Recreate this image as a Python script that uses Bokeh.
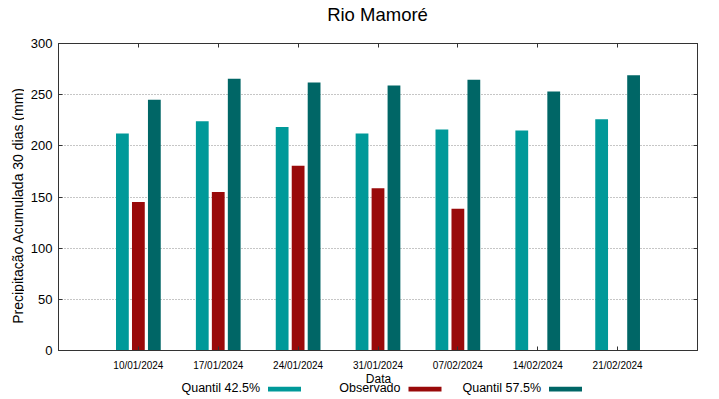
import numpy as np
from bokeh.plotting import figure
from bokeh.models import ColumnDataSource, Range1d, FixedTicker, LinearAxis
from bokeh.layouts import column, row
from bokeh.core.properties import value
from bokeh.embed import file_html
from bokeh.resources import INLINE

# ---- data ----
dates = ["10/01/2024", "17/01/2024", "24/01/2024", "31/01/2024",
         "07/02/2024", "14/02/2024", "21/02/2024"]
quantil_425 = [212, 224, 218.5, 212, 216, 215, 226]
observado = [145, 155, 180.5, 158.5, 138.5, None, None]
quantil_575 = [245, 265.5, 262, 259, 264.5, 253, 269]
y_ticks = [0, 50, 100, 150, 200, 250, 300]
series_names = ["Quantil 42.5%", "Observado", "Quantil 57.5%"]
series_colors = ["#009999", "#990a0a", "#006666"]
title_text = "Rio Mamoré"
y_label = "Precipitação Acumulada 30 dias (mm)"
x_label = "Data"

FONT = "Liberation Sans"
AXC = "#333333"


def strip(w, h):
    f = figure(width=w, height=h, x_range=Range1d(0, w), y_range=Range1d(h, 0),
               output_backend="svg", toolbar_location=None, min_border=0,
               x_axis_location=None, y_axis_location=None)
    f.outline_line_color = None
    f.grid.visible = False
    return f


# ---- top strip: title ----
tf = strip(711, 30)
tf.text(x=[377], y=[14], text=[title_text], text_align="center",
        text_baseline="middle", text_font=value(FONT), text_font_size="18.5px",
        text_color="black")

# ---- left strip: y-axis title ----
ylab = strip(24, 343)
ylab.text(x=[17], y=[181], text=[y_label], angle=np.pi / 2, text_align="center",
          text_baseline="middle", text_font=value(FONT), text_font_size="14px",
          text_color="black")

# ---- main figure ----
p = figure(width=687, height=343, x_range=Range1d(0, len(dates) + 1),
           y_range=Range1d(0, 300), output_backend="svg", toolbar_location=None,
           title=None, min_border_left=34, min_border_right=14, min_border_top=13,
           min_border_bottom=23)
p.background_fill_color = "white"
p.border_fill_color = "white"
p.outline_line_color = AXC
p.outline_line_width = 1

x_pos = np.arange(1, len(dates) + 1, dtype=float)
offsets = [-0.2, 0.0, 0.2]
bar_w = 0.16
for vals, off, col in zip([quantil_425, observado, quantil_575], offsets, series_colors):
    top = np.array([np.nan if v is None else v for v in vals], dtype=float)
    src = ColumnDataSource(dict(x=x_pos + off, top=top))
    p.vbar(x="x", top="top", bottom=0, width=bar_w, source=src,
           fill_color=col, line_color=None)

# grid
p.xgrid.visible = False
p.ygrid.ticker = FixedTicker(ticks=y_ticks)
p.ygrid.grid_line_color = "#8c8c8c"
p.ygrid.grid_line_dash = "1 2"
p.ygrid.grid_line_width = 1

# bottom axis
xa = p.xaxis[0]
xa.ticker = FixedTicker(ticks=list(x_pos))
xa.major_label_overrides = {float(x): d for x, d in zip(x_pos, dates)}
xa.major_label_text_font = FONT
xa.major_label_text_font_size = "10px"
xa.major_label_text_color = "black"
xa.major_label_standoff = 9
xa.major_tick_in = 4
xa.major_tick_out = 0
xa.minor_tick_in = 0
xa.minor_tick_out = 0
xa.axis_line_color = AXC
xa.major_tick_line_color = AXC

# left axis
ya = p.yaxis[0]
ya.ticker = FixedTicker(ticks=y_ticks)
ya.major_label_text_font = FONT
ya.major_label_text_font_size = "13px"
ya.major_label_text_color = "black"
ya.major_label_standoff = 6
ya.major_tick_in = 4
ya.major_tick_out = 0
ya.minor_tick_in = 0
ya.minor_tick_out = 0
ya.axis_line_color = AXC
ya.major_tick_line_color = AXC


# mirrored axes (ticks only, labels not painted)
def mirror_axis(ticks):
    return LinearAxis(ticker=FixedTicker(ticks=ticks), major_label_text_font_size="1px",
                      major_label_text_color=None, major_label_standoff=0,
                      major_tick_in=4, major_tick_out=0, minor_tick_in=0, minor_tick_out=0,
                      axis_line_color=AXC, major_tick_line_color=AXC)


p.add_layout(mirror_axis(list(x_pos)), "above")
p.add_layout(mirror_axis(y_ticks), "right")

# ---- bottom strip: x-axis title and legend ----
lf = strip(711, 25)
lf.text(x=[378], y=[5.6], text=[x_label], text_align="center", text_baseline="middle",
        text_font=value(FONT), text_font_size="12px", text_color="black")

text_right = np.array([259.5, 400.0, 540.5])
lf.text(x=text_right, y=[14.5] * 3, text=series_names, text_align="right",
        text_baseline="middle", text_font=value(FONT),
        text_font_size="12.5px", text_color="black")
lf.quad(left=text_right + 8, right=text_right + 41, top=[13.3] * 3, bottom=[18.0] * 3,
        fill_color=series_colors, line_color=None)

layout = column(tf, row(ylab, p, spacing=0), lf, spacing=0)
open("out.html", "w").write(file_html(layout, INLINE))
